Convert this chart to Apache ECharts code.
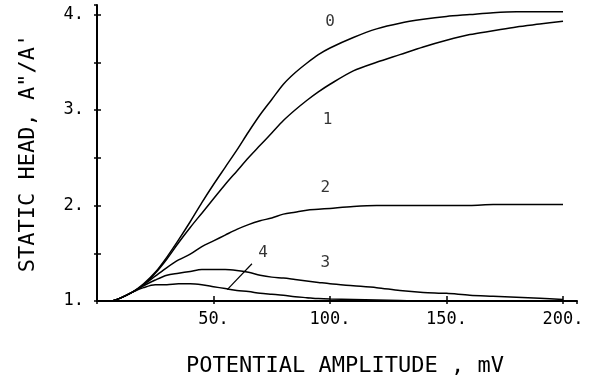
<!DOCTYPE html>
<html>
<head>
<meta charset="utf-8">
<script src="https://cdn.jsdelivr.net/npm/echarts@6/dist/echarts.min.js"></script>
<style>html,body{margin:0;padding:0;background:#fff;}#c{width:589px;height:382px;}</style>
</head>
<body>
<div id="c"></div>
<script>
// Potential amplitude (mV)
var amplitude = [6.5, 10, 15, 20, 25, 30, 35, 40, 45, 50, 55, 60, 65, 70, 75, 80, 85, 90, 95, 100, 110, 120, 130, 140, 150, 160, 170, 180, 190, 200];
// Static head A''/A' for each curve
var curve0 = [1.0, 1.03, 1.09, 1.18, 1.30, 1.46, 1.64, 1.83, 2.03, 2.22, 2.40, 2.58, 2.77, 2.95, 3.11, 3.27, 3.39, 3.49, 3.58, 3.65, 3.76, 3.85, 3.91, 3.95, 3.98, 4.00, 4.02, 4.03, 4.03, 4.03];
var curve1 = [1.0, 1.03, 1.09, 1.17, 1.29, 1.44, 1.61, 1.77, 1.92, 2.07, 2.22, 2.36, 2.50, 2.63, 2.76, 2.89, 3.00, 3.10, 3.19, 3.27, 3.41, 3.50, 3.58, 3.66, 3.73, 3.79, 3.83, 3.87, 3.90, 3.93];
var curve2 = [1.0, 1.03, 1.09, 1.17, 1.26, 1.35, 1.43, 1.49, 1.57, 1.63, 1.69, 1.75, 1.80, 1.84, 1.87, 1.91, 1.93, 1.95, 1.96, 1.97, 1.99, 2.00, 2.00, 2.00, 2.00, 2.00, 2.01, 2.01, 2.01, 2.01];
var curve3 = [1.0, 1.03, 1.09, 1.16, 1.22, 1.27, 1.29, 1.31, 1.33, 1.33, 1.33, 1.32, 1.30, 1.27, 1.25, 1.24, 1.225, 1.21, 1.195, 1.18, 1.16, 1.14, 1.11, 1.09, 1.08, 1.06, 1.05, 1.04, 1.03, 1.015];
var curve4 = [1.0, 1.03, 1.09, 1.14, 1.17, 1.17, 1.18, 1.18, 1.17, 1.15, 1.13, 1.11, 1.10, 1.08, 1.07, 1.06, 1.045, 1.035, 1.025, 1.02, 1.015, 1.01, 1.005, 1.0, 1.0, 1.0, 1.0, 1.0, 1.0, 1.0];
var curveNames = ['0', '1', '2', '3', '4'];
var yTickLabels = ['1.', '2.', '3.', '4.'];
var xTickLabels = ['50.', '100.', '150.', '200.'];

var curves = [curve0, curve1, curve2, curve3, curve4];
function pairs(ys) { return amplitude.map(function (x, i) { return [x, ys[i]]; }); }

var labelPos = [[100, 3.92], [99, 2.90], [98, 2.18], [98, 1.40], [71.3, 1.50]];
var leader = [[66.5, 1.39], [55.9, 1.12]];

var series = curves.map(function (c, i) {
  return {
    type: 'line', name: curveNames[i], data: pairs(c), showSymbol: false, smooth: 0.3,
    lineStyle: { color: '#000', width: 1.5 }, silent: true, z: 3
  };
});
series.push({
  type: 'scatter', symbolSize: 0, silent: true,
  data: curveNames.map(function (n, i) { return { value: labelPos[i], name: n }; }),
  label: { show: true, position: 'inside', formatter: '{b}', color: '#000', fontFamily: 'DejaVu Sans Mono', fontSize: 16 }
});
series.push({
  type: 'line', data: leader, showSymbol: false, silent: true,
  lineStyle: { color: '#000', width: 1.2 }
});

var mono = 'DejaVu Sans Mono';
var chart = echarts.init(document.getElementById('c'));
chart.setOption({
  animation: false,
  backgroundColor: '#fff',
  grid: { left: 97, right: 12, top: 5, bottom: 81, containLabel: false },
  xAxis: [{
    type: 'value', min: 0, max: 206, interval: 50,
    name: 'POTENTIAL AMPLITUDE , mV', nameLocation: 'middle', nameGap: 54,
    nameTextStyle: { fontFamily: mono, fontSize: 22, color: '#000', padding: [0, 0, 0, 16] },
    axisLine: { lineStyle: { color: '#000', width: 2 } },
    axisTick: { inside: true, length: 5, lineStyle: { color: '#000', width: 1.5 } },
    splitLine: { show: false },
    axisLabel: {
      color: '#000', fontFamily: mono, fontSize: 17, margin: 10, showMaxLabel: false,
      formatter: function (v) { var k = Math.round(v / 50); return (v > 0 && v % 50 === 0) ? xTickLabels[k - 1] : ''; }
    }
  }, {
    type: 'value', min: 0, max: 206, interval: 50, position: 'bottom',
    axisLine: { show: false }, axisLabel: { show: false }, splitLine: { show: false },
    axisTick: { inside: false, length: 3, lineStyle: { color: '#000', width: 1.5 } }
  }],
  yAxis: [{
    type: 'value', min: 1, max: 4.1, interval: 0.5,
    name: 'STATIC HEAD, A"/A\'', nameLocation: 'middle', nameGap: 58, nameRotate: 90,
    nameTextStyle: { fontFamily: mono, fontSize: 22, color: '#000' },
    axisLine: { lineStyle: { color: '#000', width: 2 } },
    axisTick: { inside: true, length: 4, lineStyle: { color: '#000', width: 1.5 } },
    splitLine: { show: false },
    axisLabel: {
      color: '#000', fontFamily: mono, fontSize: 17, margin: 13, showMaxLabel: false,
      formatter: function (v) { return (Math.abs(v - Math.round(v)) < 1e-6) ? yTickLabels[Math.round(v) - 1] : ''; }
    }
  }, {
    type: 'value', min: 1, max: 4.1, interval: 0.5, position: 'left',
    axisLine: { show: false }, axisLabel: { show: false }, splitLine: { show: false },
    axisTick: { inside: false, length: 3, lineStyle: { color: '#000', width: 1.5 } }
  }],
  series: series
});
</script>
</body>
</html>
